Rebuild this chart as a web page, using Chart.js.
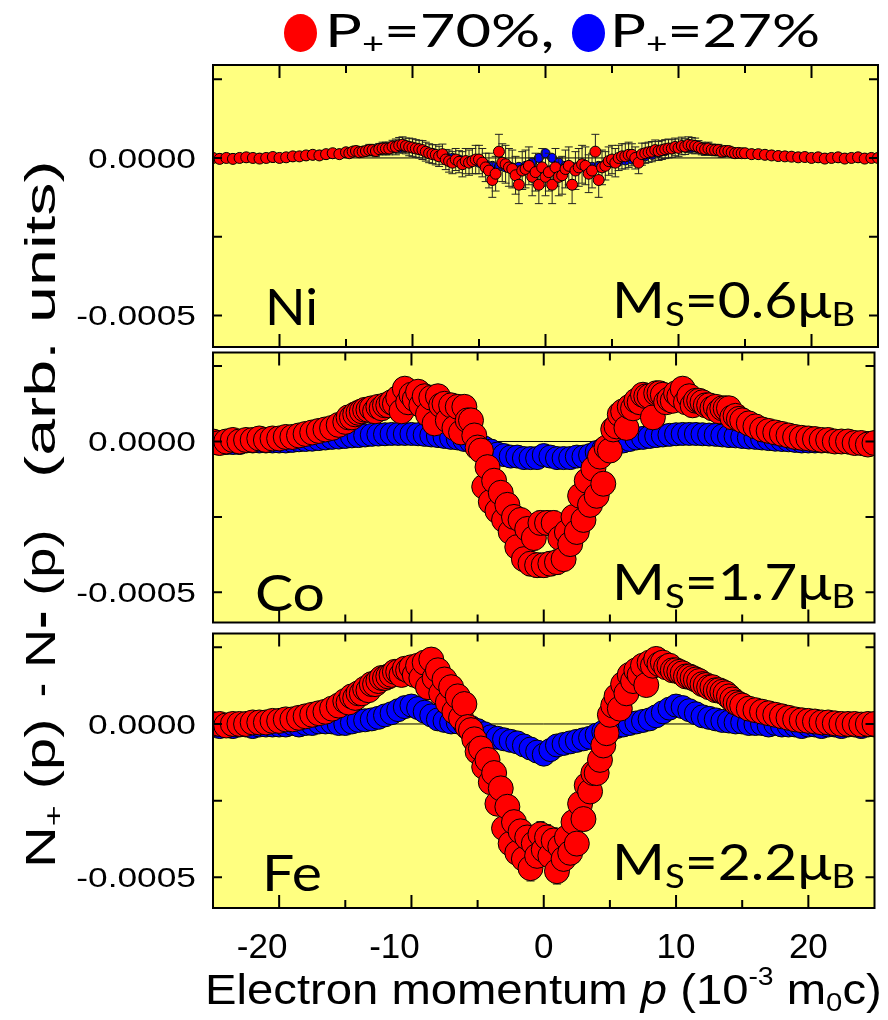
<!DOCTYPE html>
<html>
<head>
<meta charset="utf-8">
<script src="https://cdn.jsdelivr.net/npm/chart.js@4.4.1/dist/chart.umd.min.js"></script>
<style>
  html, body { margin: 0; padding: 0; background: #fff; }
  #page { position: relative; width: 888px; height: 1020px; overflow: hidden; }
  canvas { position: absolute; left: 0; }
  .txt { position: absolute; white-space: pre; line-height: 1; transform-origin: 0 0; color: #000; }
  .lato { font-family: Lato, "Noto Sans", sans-serif; }
  .arial { font-family: "Liberation Sans", Arial, sans-serif; }
  .txt sub { font-size: 0.62em; vertical-align: -0.25em; line-height: 0; }
  .txt sup { font-size: 0.6em; vertical-align: 0.75em; line-height: 0; }
  .dot { position: absolute; border-radius: 50%; }
  #ytitle { position: absolute; left: 0; top: 0; width: 720px; height: 50px; transform-origin: 0 0; }
</style>
</head>
<body>
<div id="page">
  <canvas id="ni" width="888" height="298" style="top:57px"></canvas>
  <canvas id="co" width="888" height="297" style="top:339px"></canvas>
  <canvas id="fe" width="888" height="400" style="top:620px"></canvas>

  <div class="dot" style="left:284px; top:14px; width:33px; height:38px; background:#ff0000"></div>
  <div class="txt lato fit" data-w="230" style="left:325px; top:7px; font-size:46px">P<sub>+</sub>=70%,</div>
  <div class="dot" style="left:572px; top:14px; width:33px; height:38px; background:#0000ff"></div>
  <div class="txt lato fit" data-w="210" style="left:610px; top:7px; font-size:46px">P<sub>+</sub>=27%</div>

  <div id="ytitle" style="transform: translate(20px, 868px) rotate(-90deg)">
    <div class="txt arial fit" data-w="150" style="left:0px; top:0; font-size:42px">N<sub>+</sub> (p)</div>
    <div class="txt arial" style="left:171px; top:0; font-size:42px">-</div>
    <div class="txt arial fit" data-w="138" style="left:200px; top:0; font-size:42px">N<b>-</b> (p)</div>
    <div class="txt arial fit" data-w="318" style="left:390px; top:0; font-size:42px">(arb. units)</div>
  </div>

  <div class="txt arial fit" data-w="677" style="left:205px; top:969px; font-size:42px">Electron momentum <i>p</i> (10<sup>-3</sup> m<sub>0</sub>c)</div>
</div>

<script>
// momentum grid (10^-3 m0c)
const momentum = [
  -25, -24.5, -24, -23.5, -23, -22.5, -22, -21.5, -21, -20.5,
  -20, -19.5, -19, -18.5, -18, -17.5, -17, -16.5, -16, -15.5,
  -15, -14.5, -14, -13.5, -13, -12.5, -12, -11.5, -11, -10.5,
  -10, -9.5, -9, -8.5, -8, -7.5, -7, -6.5, -6, -5.5,
  -5, -4.5, -4, -3.5, -3, -2.5, -2, -1.5, -1, -0.5,
  0,
  0.5, 1, 1.5, 2, 2.5, 3, 3.5, 4, 4.5, 5,
  5.5, 6, 6.5, 7, 7.5, 8, 8.5, 9, 9.5, 10,
  10.5, 11, 11.5, 12, 12.5, 13, 13.5, 14, 14.5, 15,
  15.5, 16, 16.5, 17, 17.5, 18, 18.5, 19, 19.5, 20,
  20.5, 21, 21.5, 22, 22.5, 23, 23.5, 24, 24.5, 25
];
// second (interleaved) momentum set of the P+=70% runs
const momentumB = [
  -14.75, -14.25, -13.75, -13.25, -12.75, -12.25, -11.75, -11.25, -10.75, -10.25,
  -9.75, -9.25, -8.75, -8.25, -7.75, -7.25, -6.75, -6.25, -5.75, -5.25,
  -4.75, -4.25, -3.75, -3.25, -2.75, -2.25, -1.75, -1.25, -0.75, -0.25,
  0.25, 0.75, 1.25, 1.75, 2.25, 2.75, 3.25, 3.75, 4.25, 4.75,
  5.25, 5.75, 6.25, 6.75, 7.25, 7.75, 8.25, 8.75, 9.25, 9.75,
  10.25, 10.75, 11.25, 11.75, 12.25, 12.75, 13.25, 13.75, 14.25, 14.75
];

// values in units of 1e-4
const yUnit = 1e-4;

const niRedA = [
  0.0, -0.03, 0.0, -0.03, 0.0, 0.02, 0.0, -0.02, 0.0, 0.03,
  0.0, 0.02, 0.05, 0.05, 0.08, 0.1, 0.08, 0.12, 0.15, 0.12,
  0.18, 0.2, 0.18, 0.22, 0.25, 0.28, 0.3, 0.36, 0.4, 0.38,
  0.33, 0.28, 0.2, 0.12, 0.05, -0.05, -0.15, -0.12, -0.1, -0.1,
  -0.05, -0.3, -0.7, 0.2, -0.2, -0.35, -0.85, -0.35, -0.6, -0.85,
  -0.6,
  -0.85, -0.6, -0.35, -0.85, -0.3, -0.25, -0.4, -0.7, -0.25, -0.05,
  0.0, 0.05, 0.1, -0.15, 0.15, 0.2, 0.22, 0.28, 0.3, 0.32,
  0.36, 0.4, 0.35, 0.28, 0.26, 0.25, 0.22, 0.18, 0.16, 0.15,
  0.12, 0.12, 0.1, 0.08, 0.06, 0.05, 0.04, 0.02, 0.03, 0.0,
  0.02, -0.02, 0.0, 0.02, -0.02, 0.0, 0.02, -0.02, 0.0, 0.0
];
const niRedB = [
  0.15, 0.22, 0.2, 0.25, 0.22, 0.3, 0.3, 0.35, 0.42, 0.35,
  0.3, 0.25, 0.15, 0.1, 0.12, -0.1, -0.05, -0.2, -0.15, -0.05,
  -0.15, -0.4, -0.5, -0.15, -0.3, -0.55, -0.4, -0.25, -0.45, -0.3,
  -0.45, -0.3, -0.55, -0.25, -0.4, -0.2, -0.5, 0.2, -0.3, -0.1,
  -0.15, 0.05, 0.1, 0.0, 0.12, 0.18, 0.25, 0.25, 0.3, 0.35,
  0.38, 0.42, 0.38, 0.3, 0.3, 0.25, 0.2, 0.22, 0.15, 0.15
];
const niBlue = [
  0, 0, 0, 0, 0, 0, 0, 0, 0, 0,
  0, 0.02, 0.03, 0.05, 0.06, 0.08, 0.1, 0.1, 0.12, 0.14,
  0.15, 0.17, 0.2, 0.22, 0.24, 0.26, 0.28, 0.3, 0.32, 0.33,
  0.3, 0.27, 0.22, 0.16, 0.1, 0.05, 0.0, -0.05, -0.08, -0.12,
  -0.15, -0.2, -0.25, -0.28, -0.3, -0.3, -0.28, -0.25, -0.15, 0.0,
  0.15,
  0.0, -0.15, -0.25, -0.28, -0.3, -0.3, -0.28, -0.25, -0.2, -0.15,
  -0.12, -0.08, -0.05, 0.0, 0.05, 0.1, 0.16, 0.22, 0.27, 0.3,
  0.33, 0.32, 0.3, 0.28, 0.26, 0.24, 0.22, 0.2, 0.17, 0.15,
  0.14, 0.12, 0.1, 0.1, 0.08, 0.06, 0.05, 0.03, 0.02, 0,
  0, 0, 0, 0, 0, 0, 0, 0, 0, 0
];

const coRedA = [
  0.0, -0.05, 0.0, 0.05, 0.0, 0.05, 0.05, 0.1, 0.05, 0.1,
  0.1, 0.15, 0.15, 0.2, 0.25, 0.3, 0.35, 0.4, 0.45, 0.55,
  0.65, 0.8, 0.95, 1.05, 1.1, 1.15, 1.2, 1.3, 1.45, 1.75,
  1.55, 1.65, 1.5, 1.45, 1.5, 1.25, 1.2, 1.15, 1.15, 0.7,
  -0.2, -1.5, -2.0, -2.3, -2.6, -3.0, -3.5, -3.9, -4.05, -4.1,
  -4.1,
  -4.05, -4.0, -3.9, -3.4, -3.0, -2.6, -2.1, -1.8, -1.4, -0.3,
  0.5, 1.0, 1.15, 1.35, 1.55, 1.5, 1.6, 1.55, 1.4, 1.6,
  1.75, 1.5, 1.35, 1.3, 1.2, 1.15, 1.1, 1.1, 0.85, 0.7,
  0.6, 0.5, 0.4, 0.35, 0.3, 0.25, 0.2, 0.15, 0.12, 0.1,
  0.08, 0.05, 0.05, 0.0, 0.0, 0.0, -0.05, -0.05, -0.1, -0.05
];
const coRedB = [
  0.8, 0.9, 1.0, 1.05, 1.0, 1.1, 1.2, 1.25, 1.0, 1.3,
  1.4, 1.2, 0.9, 0.6, 1.2, 0.7, 0.45, 0.3, 0.7, 0.2,
  -0.3, -0.85, -1.3, -1.7, -2.1, -2.5, -2.6, -2.9, -3.2, -2.7,
  -2.7, -2.7, -3.2, -3.0, -2.5, -1.8, -1.3, -0.9, -0.5, -0.2,
  0.4, 0.9, 0.45, 1.1, 1.3, 1.5, 0.8, 1.6, 1.3, 1.35,
  1.5, 1.3, 1.2, 1.35, 1.2, 1.1, 1.0, 1.1, 0.8, 0.75
];
const coBlue = [
  -0.05, -0.05, -0.05, -0.05, -0.05, 0, 0, 0, 0, 0,
  0, 0, 0.02, 0.04, 0.05, 0.06, 0.08, 0.1, 0.12, 0.13,
  0.15, 0.17, 0.18, 0.2, 0.22, 0.23, 0.24, 0.25, 0.25, 0.25,
  0.25, 0.24, 0.22, 0.2, 0.18, 0.15, 0.12, 0.1, 0.05, 0.0,
  -0.1, -0.2, -0.3, -0.4, -0.45, -0.5, -0.5, -0.55, -0.55, -0.55,
  -0.45,
  -0.5, -0.55, -0.55, -0.55, -0.5, -0.5, -0.45, -0.35, -0.25, -0.15,
  -0.05, 0.0, 0.05, 0.1, 0.12, 0.15, 0.18, 0.2, 0.22, 0.24,
  0.25, 0.25, 0.25, 0.24, 0.23, 0.22, 0.2, 0.18, 0.17, 0.15,
  0.13, 0.12, 0.1, 0.08, 0.06, 0.05, 0.04, 0.02, 0.0, 0.0,
  0, 0, 0, 0, -0.02, -0.03, -0.05, -0.05, -0.05, -0.05
];

const feRedA = [
  0.0, 0.0, -0.05, 0.0, 0.0, 0.0, 0.05, 0.05, 0.05, 0.1,
  0.1, 0.15, 0.15, 0.2, 0.25, 0.3, 0.35, 0.4, 0.5, 0.6,
  0.75, 0.9, 1.0, 1.15, 1.3, 1.4, 1.5, 1.6, 1.7, 1.8,
  1.85, 1.9, 2.0, 2.1, 1.75, 1.45, 1.2, 0.9, 0.65, -0.2,
  -0.9, -1.4, -1.9, -2.6, -3.4, -3.9, -4.2, -4.4, -4.7, -4.3,
  -4.1,
  -4.3, -4.8, -4.4, -4.2, -3.9, -3.1, -2.2, -1.6, -0.7, 0.3,
  0.9, 1.3, 1.6, 1.75, 1.9, 2.0, 2.12, 2.0, 1.9, 1.75,
  1.65, 1.55, 1.45, 1.3, 1.2, 1.1, 1.05, 0.9, 0.7, 0.6,
  0.5, 0.45, 0.4, 0.35, 0.3, 0.25, 0.2, 0.15, 0.12, 0.1,
  0.08, 0.05, 0.05, 0.02, 0.0, 0.0, 0.0, -0.02, 0.0, 0.0
];
const feRedB = [
  0.7, 0.85, 1.0, 1.1, 1.3, 1.5, 1.55, 1.7, 1.6, 1.75,
  1.6, 1.5, 1.2, 1.5, 1.0, 0.7, 0.4, 0.2, -0.1, -0.5,
  -0.8, -1.17, -1.6, -2.1, -2.7, -3.2, -3.5, -3.7, -3.9, -3.6,
  -3.7, -3.8, -4.0, -3.7, -3.2, -2.6, -2.0, -1.6, -1.17, -0.3,
  0.6, 0.5, 1.0, 1.4, 1.6, 1.27, 1.9, 1.95, 1.85, 1.75,
  1.7, 1.55, 1.5, 1.4, 1.27, 1.2, 1.1, 1.0, 0.8, 0.65
];
const feBlue = [
  -0.05, -0.1, -0.05, -0.1, -0.05, -0.05, -0.1, -0.05, -0.05, -0.05,
  -0.05, -0.05, 0.0, -0.05, 0.0, 0.0, 0.05, 0.05, 0.05, 0.0,
  0.0, 0.05, 0.1, 0.12, 0.15, 0.2, 0.28, 0.35, 0.45, 0.55,
  0.6, 0.52, 0.4, 0.28, 0.15, 0.1, 0.05, 0.05, 0.0, -0.1,
  -0.2, -0.3, -0.4, -0.45, -0.5, -0.55, -0.6, -0.7, -0.8, -0.9,
  -1.0,
  -0.85, -0.7, -0.65, -0.6, -0.55, -0.5, -0.45, -0.35, -0.25, -0.15,
  -0.1, -0.05, 0.0, 0.05, 0.1, 0.15, 0.25, 0.38, 0.5, 0.6,
  0.55, 0.45, 0.35, 0.25, 0.2, 0.15, 0.1, 0.08, 0.05, 0.05,
  0.0, 0.0, 0.0, -0.05, 0.0, -0.05, -0.05, -0.05, -0.1, -0.05,
  -0.05, -0.1, -0.05, -0.05, -0.1, -0.05, -0.05, -0.1, -0.05, -0.05
];

// error bar half-heights (1e-4) by |p| = 0..25
const niErr = [0.6, 0.6, 0.6, 0.6, 0.55, 0.45, 0.4, 0.35, 0.32, 0.3, 0.28, 0.25, 0.2, 0.18, 0.15, 0.12, 0.1, 0.08, 0.07, 0.06, 0.05, 0.05, 0.04, 0.04, 0.03, 0.03];
const coErr = [0.4, 0.4, 0.38, 0.36, 0.33, 0.3, 0.26, 0.22, 0.2, 0.18, 0.16, 0.14, 0.12, 0.11, 0.1, 0.09, 0.08, 0.07, 0.06, 0.06, 0.05, 0.05, 0.05, 0.05, 0.05, 0.05];
const feErr = [0.42, 0.42, 0.4, 0.38, 0.35, 0.3, 0.26, 0.22, 0.2, 0.18, 0.16, 0.14, 0.12, 0.11, 0.1, 0.09, 0.08, 0.07, 0.06, 0.06, 0.05, 0.05, 0.05, 0.05, 0.05, 0.05];

const xTickValues = [-20, -15, -10, -5, 0, 5, 10, 15, 20];
const xLabelValues = [-20, -10, 0, 10, 20];
const xLabelText = ['-20', '-10', '0', '10', '20'];
const yTickValues = [0.00025, 0, -0.00025, -0.0005];
const yLabelValues = [0, -0.0005];
const yLabelText = ['0.0000', '-0.0005'];
const elements = ['Ni', 'Co', 'Fe'];
const spinMoments = ['0.6', '1.7', '2.2'];
const seriesNames = ['P+=70%', 'P+=27%'];

const panels = [
  { id: 'ni', redA: niRedA, redB: niRedB, blue: niBlue, err: niErr, big: false,
    canvasTop: 57, padBottom: 8, label: { left: 265, base: 325, w: 53 }, ms: { left: 612, base: 318, w: 243 } },
  { id: 'co', redA: coRedA, redB: coRedB, blue: coBlue, err: coErr, big: true,
    canvasTop: 339, padBottom: 8, label: { left: 255, base: 611, w: 70 }, ms: { left: 612, base: 600, w: 243 } },
  { id: 'fe', redA: feRedA, redB: feRedB, blue: feBlue, err: feErr, big: true,
    canvasTop: 620, padBottom: 112, label: { left: 262, base: 891, w: 60 }, ms: { left: 612, base: 880, w: 243 }, xLabels: true }
];

function pts(xs, ys) {
  return xs.map((x, i) => ({ x: x, y: ys[i] * yUnit }));
}

function drawPieces(ctx, pieces, left, base, width) {
  let total = 0;
  pieces.forEach(p => { ctx.font = p.font; p.w = ctx.measureText(p.t).width; total += p.w; });
  const s = width / total;
  ctx.save();
  ctx.translate(left, base);
  ctx.scale(s, 1);
  let x = 0;
  pieces.forEach(p => { ctx.font = p.font; ctx.fillText(p.t, x, p.dy || 0); x += p.w; });
  ctx.restore();
}

function decoPlugin(p, k) {
  return {
    id: 'deco' + k,
    beforeDraw(chart) {
      const a = chart.chartArea, ctx = chart.ctx;
      ctx.save();
      ctx.fillStyle = '#ffff80';
      ctx.fillRect(a.left, a.top, a.right - a.left, a.bottom - a.top);
      ctx.restore();
    },
    beforeDatasetsDraw(chart) {
      const a = chart.chartArea, ctx = chart.ctx;
      const y0 = chart.scales.y.getPixelForValue(0);
      ctx.save();
      ctx.strokeStyle = '#000';
      ctx.lineWidth = 1;
      ctx.beginPath();
      ctx.moveTo(a.left, y0);
      ctx.lineTo(a.right, y0);
      ctx.stroke();
      ctx.restore();
    },
    afterDatasetDraw(chart, args) {
      if (args.index !== 1) return;
      const a = chart.chartArea, ctx = chart.ctx, ys = chart.scales.y;
      const meta = chart.getDatasetMeta(0);
      const data = chart.data.datasets[0].data;
      ctx.save();
      ctx.beginPath();
      ctx.rect(a.left, a.top, a.right - a.left, a.bottom - a.top);
      ctx.clip();
      ctx.strokeStyle = '#222';
      ctx.lineWidth = 1;
      meta.data.forEach((el, i) => {
        const d = data[i];
        const e = p.err[Math.min(25, Math.round(Math.abs(d.x)))] * yUnit;
        const y1 = ys.getPixelForValue(d.y + e), y2 = ys.getPixelForValue(d.y - e);
        ctx.beginPath();
        ctx.moveTo(el.x, y1); ctx.lineTo(el.x, y2);
        ctx.moveTo(el.x - 4, y1); ctx.lineTo(el.x + 4, y1);
        ctx.moveTo(el.x - 4, y2); ctx.lineTo(el.x + 4, y2);
        ctx.stroke();
      });
      ctx.restore();
    },
    afterDraw(chart) {
      const a = chart.chartArea, ctx = chart.ctx;
      const xs = chart.scales.x, ys = chart.scales.y;
      ctx.save();
      ctx.strokeStyle = '#000';
      ctx.lineWidth = 2;
      ctx.strokeRect(a.left, a.top, a.right - a.left, a.bottom - a.top);
      ctx.beginPath();
      xTickValues.forEach(v => {
        const x = xs.getPixelForValue(v);
        const len = v % 10 === 0 ? 13 : 8;
        ctx.moveTo(x, a.bottom); ctx.lineTo(x, a.bottom - len);
        ctx.moveTo(x, a.top); ctx.lineTo(x, a.top + len);
      });
      yTickValues.forEach(v => {
        const y = ys.getPixelForValue(v);
        ctx.moveTo(a.left, y); ctx.lineTo(a.left + 9, y);
        ctx.moveTo(a.right, y); ctx.lineTo(a.right - 9, y);
      });
      ctx.stroke();

      ctx.fillStyle = '#000';
      ctx.textBaseline = 'alphabetic';
      ctx.textAlign = 'left';
      ctx.font = '28px "Liberation Sans", Arial, sans-serif';
      const sx = 108 / ctx.measureText('0.0000').width;
      yLabelValues.forEach((v, i) => {
        const y = ys.getPixelForValue(v);
        const w = ctx.measureText(yLabelText[i]).width * sx;
        ctx.save();
        ctx.translate(196 - w, y + 10);
        ctx.scale(sx, 1);
        ctx.fillText(yLabelText[i], 0, 0);
        ctx.restore();
      });

      if (p.xLabels) {
        ctx.font = '35px "Liberation Sans", Arial, sans-serif';
        ctx.textAlign = 'center';
        xLabelValues.forEach((v, i) => {
          // negative labels sit left of their tick in the original
          const shift = v < 0 ? -17 : 0;
          ctx.fillText(xLabelText[i], xs.getPixelForValue(v) + shift, a.bottom + 50);
        });
        ctx.textAlign = 'left';
      }

      const big = '50px Lato, "Noto Sans", sans-serif';
      const small = '32px Lato, "Noto Sans", sans-serif';
      drawPieces(ctx, [{ t: elements[k], font: big }], p.label.left, p.label.base - p.canvasTop, p.label.w);
      drawPieces(ctx, [
        { t: 'M', font: big },
        { t: 'S', font: small, dy: 8 },
        { t: '=' + spinMoments[k], font: big },
        { t: '\u03bc', font: big },
        { t: 'B', font: small, dy: 8 }
      ], p.ms.left, p.ms.base - p.canvasTop, p.ms.w);
      ctx.restore();
    }
  };
}

panels.forEach((p, k) => {
  const red = pts(momentum, p.redA).concat(pts(momentumB, p.redB)).sort((a, b) => a.x - b.x);
  const blue = pts(momentum, p.blue);
  new Chart(document.getElementById(p.id), {
    type: 'scatter',
    data: {
      datasets: [
        { label: seriesNames[0], data: red, pointBackgroundColor: '#ff0000', pointBorderColor: '#000',
          pointBorderWidth: 1, pointRadius: p.big ? 12.5 : 5.5, showLine: false, clip: 0 },
        { label: seriesNames[1], data: blue, pointBackgroundColor: '#0000ff', pointBorderColor: '#000',
          pointBorderWidth: 1, pointRadius: p.big ? 11.5 : 4.5, showLine: false, clip: 0 }
      ]
    },
    options: {
      responsive: false,
      animation: false,
      events: [],
      layout: { padding: { left: 213, right: 10, top: 8, bottom: p.padBottom } },
      scales: {
        x: { type: 'linear', min: -25, max: 25, display: false },
        y: { type: 'linear', min: -0.0006, max: 0.000295, display: false }
      },
      plugins: { legend: { display: false }, tooltip: { enabled: false } }
    },
    plugins: [decoPlugin(p, k)]
  });
});

document.querySelectorAll('.fit').forEach(el => {
  const w = el.offsetWidth;
  el.style.transform = 'scaleX(' + (Number(el.dataset.w) / w) + ')';
});
</script>
</body>
</html>
